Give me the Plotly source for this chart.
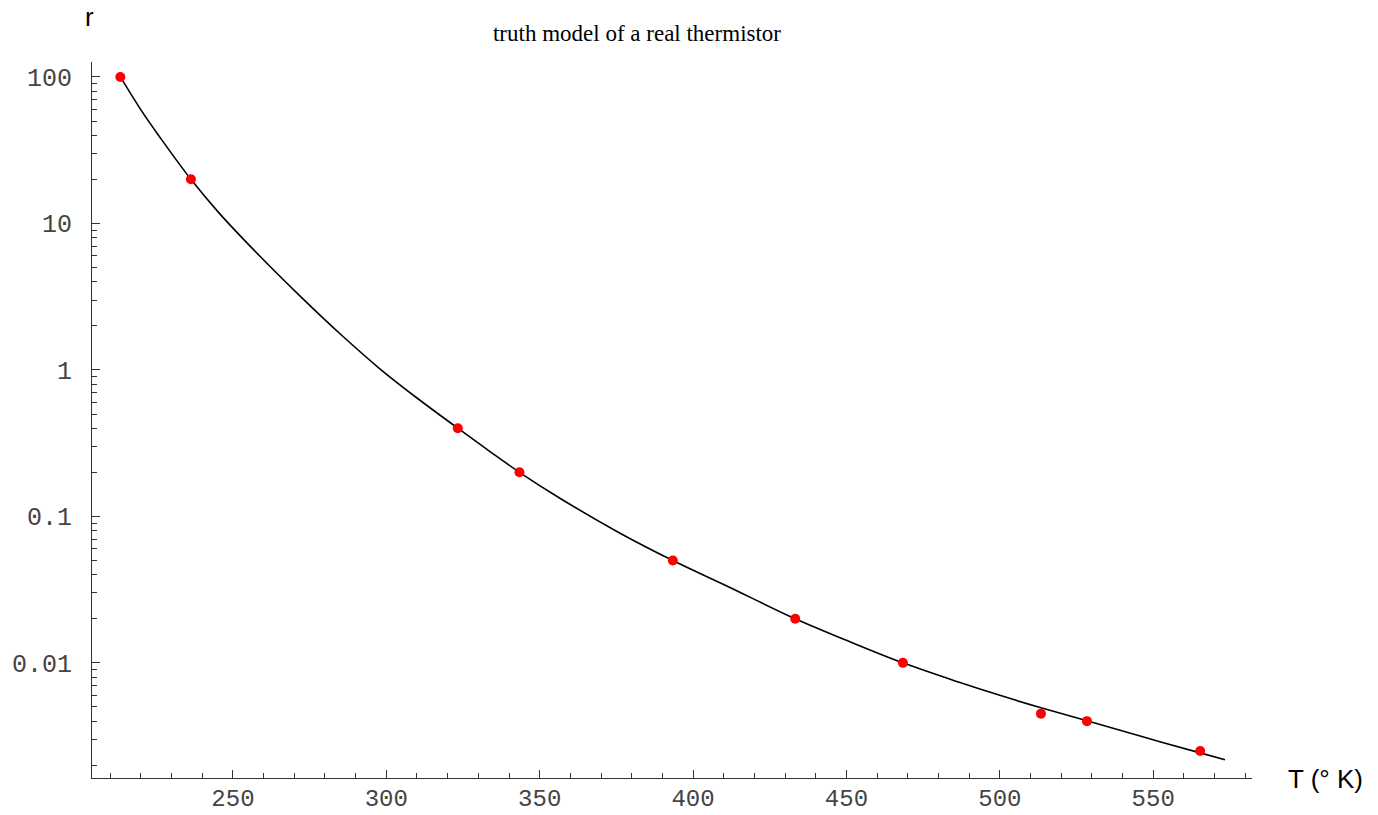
import plotly.graph_objects as go

# ---- data ----
T_data = [213.3, 236.3, 323.3, 343.4, 393.4, 433.3, 468.4, 513.4, 528.4, 565.3]
r_data = [100, 20, 0.40, 0.20, 0.050, 0.020, 0.010, 0.0045, 0.0040, 0.0025]

T_curve = [213.3, 220.0, 226.3, 236.3, 245.3, 258.9, 271.9, 285.0, 298.0, 310.0,
           323.3, 333.8, 343.4, 356.6, 376.2, 393.4, 411.0, 433.3, 450.0, 468.4,
           487.0, 500.0, 513.4, 528.4, 546.0, 565.3, 573.4]
r_curve = [100, 59.6, 38.5, 20.0, 11.9, 5.94, 3.19, 1.758, 1.014, 0.643,
           0.40, 0.277, 0.20, 0.133, 0.0768, 0.050, 0.0335, 0.020, 0.01425, 0.010,
           0.00734, 0.0060, 0.00494, 0.00403, 0.00315, 0.00243, 0.00218]

x_tickvals = [250, 300, 350, 400, 450, 500, 550]
y_tickvals = [0.01, 0.1, 1, 10, 100]
y_ticktext = ["0.01", "0.1", "1", "10", "100"]

title_text = "truth model of a real thermistor"
x_label = "T (° K)"
y_label = "r"

# ---- layout geometry (pixels) ----
W, H = 1378, 815
L, R, T, B = 92, 1252, 62, 778

def px2paper(px, py):
    return (px - L) / (R - L), (B - py) / (B - T)

fig = go.Figure()
fig.add_trace(go.Scatter(x=T_curve, y=r_curve, mode="lines",
                         line=dict(color="black", width=1.6, shape="spline", smoothing=1.0),
                         hoverinfo="skip"))
fig.add_trace(go.Scatter(x=T_data, y=r_data, mode="markers",
                         marker=dict(color="#ff0000", size=10, line=dict(width=0))))

axis_col = "#333333"
tick_font_y = dict(family="Liberation Mono", size=25, color="#444444")
tick_font_x = dict(family="Liberation Mono", size=24, color="#444444")

fig.update_xaxes(range=[204.06, 582.2], showline=True, linecolor=axis_col, linewidth=1,
                 showgrid=False, zeroline=False, mirror=False, automargin=False,
                 ticks="inside", ticklen=8, tickcolor=axis_col, tickwidth=1,
                 tickmode="array", tickvals=x_tickvals,
                 tickfont=tick_font_x, ticklabelstandoff=-2,
                 minor=dict(ticks="inside", ticklen=5, tickcolor=axis_col, tickwidth=1,
                            dtick=10, tick0=0, showgrid=False))
fig.update_yaxes(type="log", range=[-2.786, 2.102], showline=True, linecolor=axis_col,
                 linewidth=1, showgrid=False, zeroline=False, automargin=False,
                 ticks="inside", ticklen=8, tickcolor=axis_col, tickwidth=1,
                 tickmode="array", tickvals=y_tickvals, ticktext=y_ticktext,
                 tickfont=tick_font_y, ticklabelstandoff=14,
                 minor=dict(ticks="inside", ticklen=5, tickcolor=axis_col, tickwidth=1,
                            dtick="D1", showgrid=False))

rx, ry = px2paper(89, 16.5)
tx, ty = px2paper(1325, 778.5)
fig.update_layout(
    width=W, height=H,
    margin=dict(l=L, r=W - R, t=T, b=H - B, autoexpand=False),
    plot_bgcolor="white", paper_bgcolor="white",
    showlegend=False,
    title=dict(text=title_text, x=637 / W, xref="container", xanchor="center",
               y=1 - 33 / H, yref="container", yanchor="middle",
               font=dict(family="Liberation Serif", size=23, color="black")),
    annotations=[
        dict(text=y_label, x=rx, y=ry, xref="paper", yref="paper", showarrow=False,
             xanchor="center", yanchor="middle",
             font=dict(family="Liberation Sans", size=26, color="black")),
        dict(text=x_label, x=tx, y=ty, xref="paper", yref="paper", showarrow=False,
             xanchor="center", yanchor="middle",
             font=dict(family="Liberation Sans", size=26, color="black")),
    ],
)

fig.write_html("out.html")
